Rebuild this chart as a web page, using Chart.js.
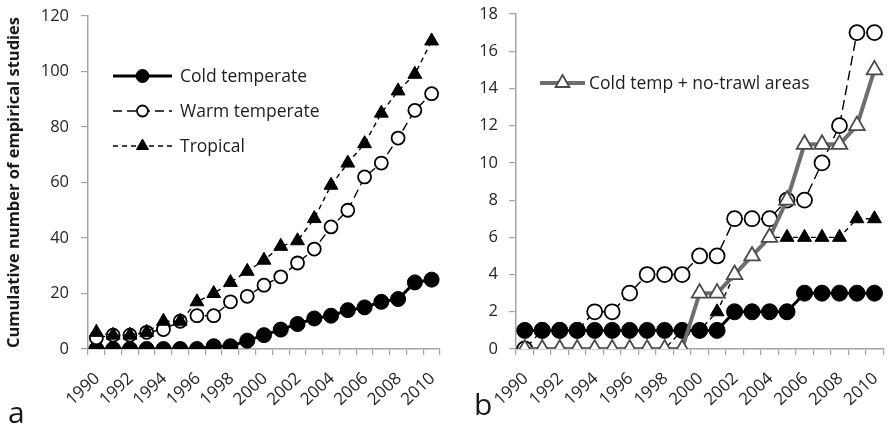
<!DOCTYPE html>
<html>
<head>
<meta charset="utf-8">
<script src="https://cdn.jsdelivr.net/npm/chart.js@4/dist/chart.umd.min.js"></script>
<style>
  body { margin: 0; background: #fff; }
  #wrap { position: relative; width: 889px; height: 431px; overflow: hidden; background: #fff; }
  #wrap canvas { position: absolute; top: 0; }
  .panel-tag { position: absolute; font-family: 'Open Sans', sans-serif; font-size: 30px; line-height: 30px; color: #1a1a1a; }
</style>
</head>
<body>
<div id="wrap">
  <canvas id="chartA" width="449" height="431" style="left:0"></canvas>
  <canvas id="chartB" width="450" height="431" style="left:444px"></canvas>
  <div class="panel-tag" style="left:8px;top:397px">a</div>
  <div class="panel-tag" style="left:474px;top:389px">b</div>
</div>
<script>
const years = ['1990','1991','1992','1993','1994','1995','1996','1997','1998','1999','2000',
               '2001','2002','2003','2004','2005','2006','2007','2008','2009','2010'];

// panel a: all studies
const coldA = [0,0,0,0,0,0,0,1,1,3,5,7,9,11,12,14,15,17,18,24,25];
const warmA = [4,5,5,6,7,10,12,12,17,19,23,26,31,36,44,50,62,67,76,86,92];
const tropA = [6,5,5,6,10,10,17,20,24,28,32,37,39,47,59,67,74,85,93,99,111];

// panel b
const coldB  = [1,1,1,1,1,1,1,1,1,1,1,1,2,2,2,2,3,3,3,3,3];
const warmB  = [0,1,1,1,2,2,3,4,4,4,5,5,7,7,7,8,8,10,12,17,17];
const tropB  = [0,0,0,0,0,0,0,0,0,1,1,2,4,5,6,6,6,6,6,7,7];
const trawlB = [0,0,0,0,0,0,0,0,0,0,3,3,4,5,6,8,11,11,11,12,15];

const FONT = "'Open Sans', sans-serif";
const AXIS = '#a3a3a3';
const TEXT = '#262626';

const cold = (data, r) => ({
  label: 'Cold temperate', data,
  borderColor: '#000', borderWidth: 3,
  pointStyle: 'circle', pointRadius: r,
  pointBackgroundColor: '#000', pointBorderColor: '#000', pointBorderWidth: 1
});
const warm = (data, r, dash) => ({
  label: 'Warm temperate', data,
  borderColor: '#000', borderWidth: 1.4, borderDash: dash,
  pointStyle: 'circle', pointRadius: r,
  pointBackgroundColor: '#fff', pointBorderColor: '#000', pointBorderWidth: 1.8
});
const trop = (data, r) => ({
  label: 'Tropical', data,
  borderColor: '#000', borderWidth: 1.4, borderDash: [5, 4],
  pointStyle: 'triangle', pointRadius: r,
  pointBackgroundColor: '#000', pointBorderColor: '#000', pointBorderWidth: 1
});
const trawl = (data, r) => ({
  label: 'Cold temp + no-trawl areas', data,
  borderColor: '#6e6e6e', borderWidth: 4,
  pointStyle: 'triangle', pointRadius: r,
  pointBackgroundColor: '#fff', pointBorderColor: '#4a4a4a', pointBorderWidth: 1.8
});

// legend drawn inside the plot: line sample with marker, then label
const inlineLegend = (items, x, y, len, gap, textX) => ({
  id: 'inlineLegend',
  afterDatasetsDraw(chart) {
    const ctx = chart.ctx;
    items.forEach((idx, row) => {
      const ds = chart.data.datasets[idx];
      const yy = y + row * gap;
      ctx.save();
      ctx.strokeStyle = ds.borderColor;
      ctx.lineWidth = ds.borderWidth;
      ctx.setLineDash(ds.borderDash || []);
      ctx.beginPath();
      ctx.moveTo(x, yy);
      ctx.lineTo(x + len, yy);
      ctx.stroke();
      ctx.setLineDash([]);
      ctx.fillStyle = ds.pointBackgroundColor;
      ctx.strokeStyle = ds.pointBorderColor;
      ctx.lineWidth = ds.pointBorderWidth;
      Chart.helpers.drawPoint(ctx, {pointStyle: ds.pointStyle, radius: ds.pointRadius - 1, borderWidth: ds.pointBorderWidth}, x + len / 2, yy);
      ctx.fillStyle = '#1e1e1e';
      ctx.font = '17.5px ' + FONT;
      ctx.textBaseline = 'middle';
      ctx.textAlign = 'left';
      ctx.fillText(ds.label, textX, yy + 1);
      ctx.restore();
    });
  }
});

// slanted year labels, every second category, right end under the point
const yearLabels = {
  id: 'yearLabels',
  afterDraw(chart) {
    const ctx = chart.ctx;
    const xs = chart.scales.x;
    const ang = -43 * Math.PI / 180;
    ctx.save();
    ctx.fillStyle = TEXT;
    ctx.font = '17px ' + FONT;
    ctx.textAlign = 'right';
    ctx.textBaseline = 'middle';
    years.forEach((yr, i) => {
      if (i % 2) return;
      ctx.save();
      ctx.translate(xs.getPixelForValue(i) + 1, xs.top + 27);
      ctx.rotate(ang);
      ctx.fillText(yr, 0, 0);
      ctx.restore();
    });
    ctx.restore();
  }
};

// the layout padding alone decides where the plot box sits
const noScalePad = (s) => {
  s.paddingTop = 0; s.paddingBottom = 0; s.paddingLeft = 0; s.paddingRight = 0;
};

function makeChart(id, datasets, yMax, yStep, yWidth, yPad, pad, title, legend) {
  return new Chart(document.getElementById(id), {
    type: 'line',
    data: { labels: years, datasets },
    options: {
      responsive: false,
      animation: false,
      layout: { padding: pad },
      plugins: { legend: { display: false }, tooltip: { enabled: false } },
      elements: { line: { tension: 0 } },
      scales: {
        x: {
          type: 'category',
          offset: true,
          grid: { offset: true, drawOnChartArea: false, tickLength: 6, color: AXIS, lineWidth: 1.2 },
          border: { color: AXIS, width: 1.5 },
          ticks: { display: false },
          afterFit: (s) => { s.height = 431 - 349 - pad.bottom; noScalePad(s); }
        },
        y: {
          min: 0, max: yMax,
          grid: { drawOnChartArea: false, tickLength: 7, color: AXIS, lineWidth: 1.2 },
          border: { color: AXIS, width: 1.5 },
          ticks: { stepSize: yStep, padding: yPad, color: TEXT, font: { family: FONT, size: 16.5 } },
          title: title ? { display: true, text: title, color: '#1a1a1a', font: { family: FONT, size: 16.5, weight: 'bold' }, padding: { top: 0, bottom: 0 } } : { display: false },
          afterFit: (s) => { s.width = yWidth; noScalePad(s); }
        }
      }
    },
    plugins: [legend, yearLabels]
  });
}

// dataset index 0 is drawn on top
makeChart('chartA',
  [trop(tropA, 8), warm(warmA, 6.5, [9, 5]), cold(coldA, 7.5)],
  120, 20, 84, 12, { left: 4, right: 0, top: 16, bottom: 0 },
  'Cumulative number of empirical studies',
  inlineLegend([2, 1, 0], 113, 76, 59, 35, 180));

makeChart('chartB',
  [trawl(trawlB, 9), cold(coldB, 8), trop(tropB, 8), warm(warmB, 7.5, [10, 5])],
  18, 2, 72, 11, { left: 0, right: 0, top: 14, bottom: 0 },
  null,
  inlineLegend([0], 96, 83, 45, 0, 145));
</script>
</body>
</html>
